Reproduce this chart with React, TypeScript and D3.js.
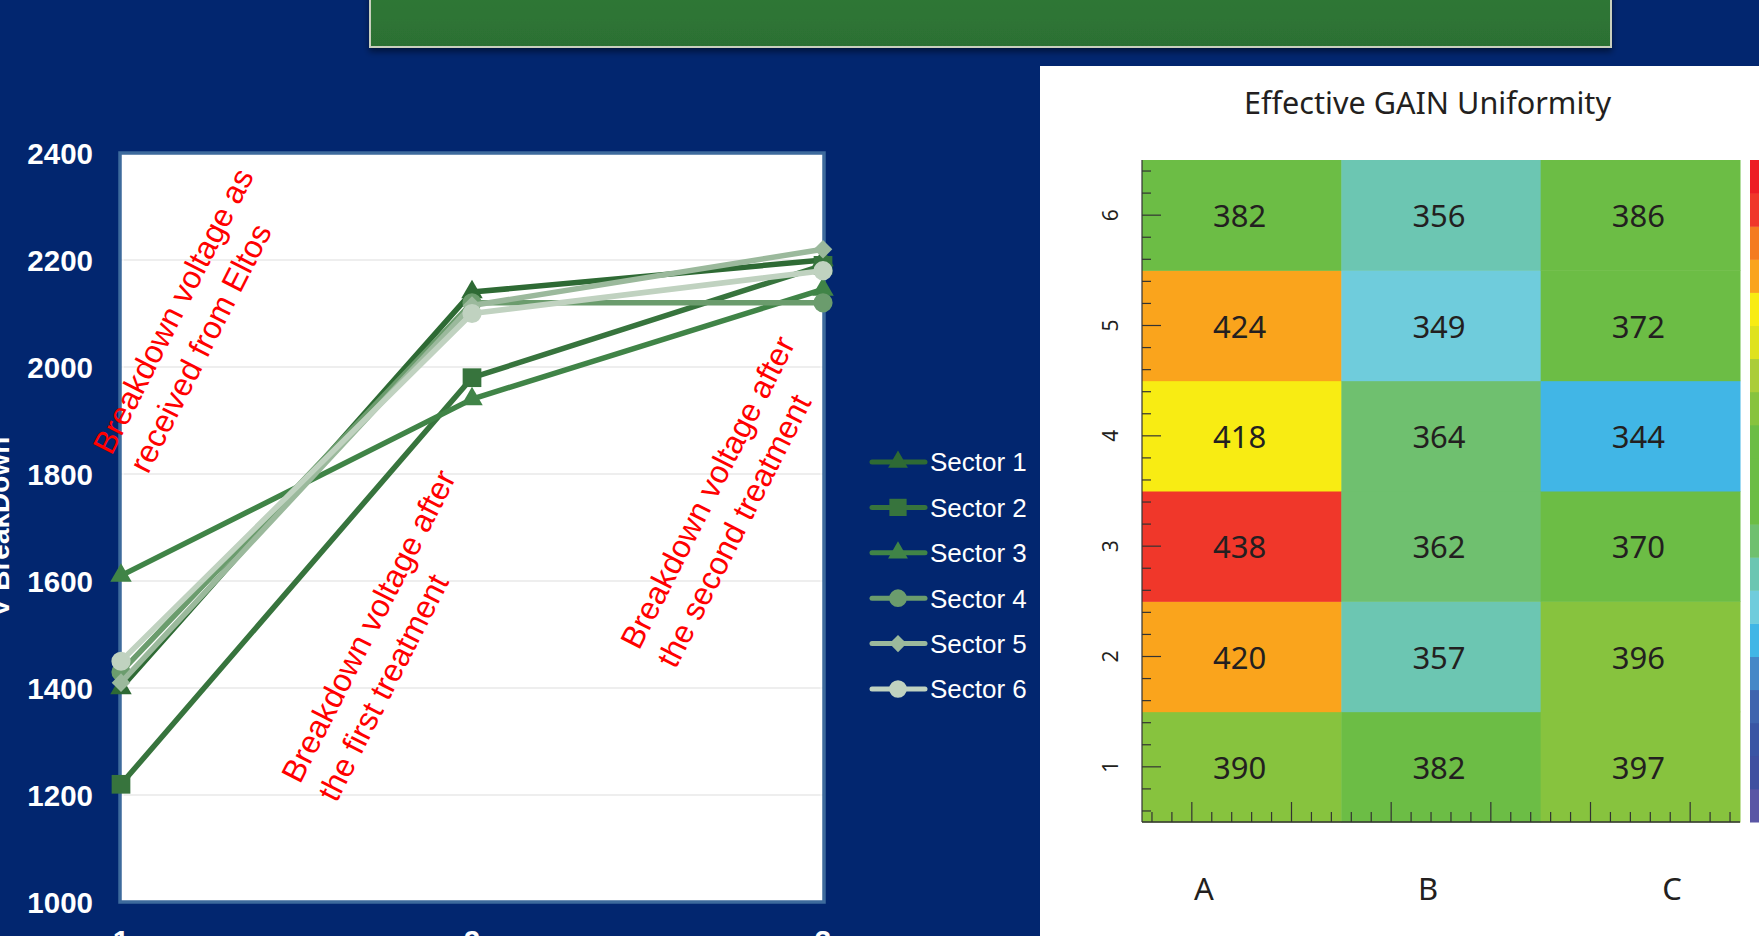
import React from "react";
import * as d3 from "d3";

const W = 1759;
const H = 936;

// ---- Breakdown voltage chart data ----
const stages = [1, 2, 3];
const stageLabels = ["1", "2", "3"];
const voltTicks = [1000, 1200, 1400, 1600, 1800, 2000, 2200, 2400];
const sectorNames = ["Sector 1", "Sector 2", "Sector 3", "Sector 4", "Sector 5", "Sector 6"];
const sector1 = [1400, 2140, 2200];
const sector2 = [1220, 1980, 2190];
const sector3 = [1610, 1940, 2145];
const sector4 = [1430, 2120, 2120];
const sector5 = [1410, 2115, 2220];
const sector6 = [1450, 2100, 2180];
const sectorSeries = [sector1, sector2, sector3, sector4, sector5, sector6];
const sectorColors = ["#2e6a34", "#37743d", "#408447", "#6b9c6d", "#9bb99c", "#c0d2c0"];

// annotation text blocks, anchored (first line start) in data space (stage, volts)
const noteLines = [
  ["Breakdown voltage as", "received from Eltos"],
  ["Breakdown voltage after", "the first treatment"],
  ["Breakdown voltage after", "the second treatment"],
];
const noteStage = [0.973, 1.51, 2.476];
const noteVolt = [1833, 1219, 1469];

// ---- Gain uniformity map data ----
const columns = ["A", "B", "C"];
const rows = [1, 2, 3, 4, 5, 6];
const gainA = [390, 420, 438, 418, 424, 382];
const gainB = [382, 357, 362, 364, 349, 356];
const gainC = [397, 396, 370, 344, 372, 386];
const gainColumns = [gainA, gainB, gainC];
const columnLabelPos = [0.311, 1.435, 2.659];
// colour steps, low to high
const gainPalette = [
  "#5a56a5", "#3f50a0", "#3a55a4", "#3f64ae", "#4688c7",
  "#41b6e6", "#6fccdc", "#6cc6b2", "#6fc06f", "#6cbd45",
  "#6cbd45", "#6cbd45", "#87c33e", "#abcd39", "#dfe21e",
  "#f8ec13", "#faa41c", "#f47b20", "#f0372a", "#ed1c24",
];
const gainDomain = [300, 450];

const symbolDiamondSq = (d3 as any).symbolDiamond2 || d3.symbolDiamond;
const sectorSymbols = [
  d3.symbolTriangle, d3.symbolSquare, d3.symbolTriangle,
  d3.symbolCircle, symbolDiamondSq, d3.symbolCircle,
];
const symbolSizes = [200, 350, 200, 290, 220, 290];

const NAVY = "#02266f";
const SANS = "'Liberation Sans', Arial, sans-serif";
const MAP_FONT = "'Noto Sans', 'Open Sans', sans-serif";

export default function App() {
  // left chart scales
  const x = d3.scaleLinear().domain([1, 3]).range([121, 823]);
  const y = d3.scaleLinear().domain([1000, 2400]).range([902, 153]);
  const line = d3
    .line<number>()
    .x((_, i) => x(stages[i]))
    .y((v) => y(v));

  // heat map scales
  const hx = d3.scaleLinear().domain([0, 3]).range([1142, 1740]);
  const hy = d3.scaleLinear().domain([0.5, 6.5]).range([822, 160]);
  const color = d3.scaleQuantize<string>().domain(gainDomain).range(gainPalette);
  const cb = d3.scaleBand<number>().domain(d3.range(gainPalette.length).reverse()).range([160, 822]);

  const xMinor = d3.range(30).map((k) => k * 0.1 + 0.05);
  const yMinor = rows.flatMap((r) => [-0.4, -0.2, 0, 0.2, 0.4].map((o) => r + o));

  const legendY = d3.scaleLinear().domain([0, 5]).range([462, 689]);

  return (
    <svg
      width={W}
      height={H}
      style={{ position: "fixed", left: 0, top: 0, display: "block" }}
      xmlns="http://www.w3.org/2000/svg"
    >
      <defs>
        <filter id="bannerShadow" x="-5%" y="-50%" width="110%" height="200%">
          <feDropShadow dx="0" dy="4" stdDeviation="3" floodColor="#000" floodOpacity="0.45" />
        </filter>
        <linearGradient id="bannerFill" x1="0" y1="0" x2="0" y2="1">
          <stop offset="0" stopColor="#2f7836" />
          <stop offset="1" stopColor="#2c7033" />
        </linearGradient>
      </defs>
      <rect x={0} y={0} width={W} height={H} fill={NAVY} />

      {/* banner */}
      <rect
        x={370}
        y={-10}
        width={1241}
        height={57}
        fill="url(#bannerFill)"
        stroke="#c9cfbd"
        strokeWidth={2}
        filter="url(#bannerShadow)"
      />

      {/* ---- breakdown voltage chart ---- */}
      <rect x={x(1) - 1} y={y(2400)} width={x(3) - x(1) + 2} height={y(1000) - y(2400)} fill="#ffffff" />
      {voltTicks
        .filter((v) => v > 1000 && v < 2400)
        .map((v) => (
          <line key={v} x1={x(1)} x2={x(3)} y1={y(v)} y2={y(v)} stroke="#eeeeee" strokeWidth={2} />
        ))}
      <rect
        x={x(1) - 1}
        y={y(2400)}
        width={x(3) - x(1) + 2}
        height={y(1000) - y(2400)}
        fill="none"
        stroke="#3d6a9c"
        strokeWidth={3.5}
      />
      <rect
        x={x(1) + 2}
        y={y(2400) + 2.5}
        width={x(3) - x(1) - 4}
        height={y(1000) - y(2400) - 5}
        fill="none"
        stroke="#ffffff"
        strokeWidth={1}
      />

      {voltTicks.map((v) => (
        <text
          key={v}
          x={93}
          y={y(v) + 10.5}
          textAnchor="end"
          fill="#ffffff"
          fontFamily={SANS}
          fontWeight="bold"
          fontSize={29.5}
        >
          {v}
        </text>
      ))}
      {stages.map((s, i) => (
        <text
          key={s}
          x={x(s)}
          y={y(1000) + 49}
          textAnchor="middle"
          fill="#ffffff"
          fontFamily={SANS}
          fontWeight="bold"
          fontSize={29.5}
        >
          {stageLabels[i]}
        </text>
      ))}
      <text
        transform="translate(9,527) rotate(-90)"
        textAnchor="middle"
        fill="#ffffff"
        fontFamily={SANS}
        fontWeight="bold"
        fontSize={28}
      >
        V BreakDown
      </text>

      {/* annotations */}
      {noteLines.map((ls, i) => (
        <text
          key={i}
          transform={`translate(${x(noteStage[i])},${y(noteVolt[i])}) rotate(-63)`}
          textAnchor="start"
          fill="#ff0000"
          fontFamily={SANS}
          fontSize={32}
        >
          <tspan x={0} y={0}>
            {ls[0]}
          </tspan>
          <tspan x={0} y={41}>
            {ls[1]}
          </tspan>
        </text>
      ))}

      {/* series */}
      {sectorSeries.map((vals, si) => (
        <g key={si}>
          <path
            d={line(vals) || ""}
            fill="none"
            stroke={sectorColors[si]}
            strokeWidth={5.5}
            strokeLinejoin="round"
            strokeLinecap="round"
          />
          {vals.map((v, i) => (
            <path
              key={i}
              transform={`translate(${x(stages[i])},${y(v)})`}
              d={d3.symbol().type(sectorSymbols[si]).size(symbolSizes[si])() || ""}
              fill={sectorColors[si]}
            />
          ))}
        </g>
      ))}

      {/* legend */}
      {sectorNames.map((name, i) => (
        <g key={name} transform={`translate(0,${legendY(i)})`}>
          <line x1={872} x2={925} y1={0} y2={0} stroke={sectorColors[i]} strokeWidth={5} strokeLinecap="round" />
          <path
            transform="translate(898,0)"
            d={d3.symbol().type(sectorSymbols[i]).size(symbolSizes[i] * 0.85)() || ""}
            fill={sectorColors[i]}
          />
          <text x={930} y={9.3} fill="#ffffff" fontFamily={SANS} fontSize={26}>
            {name}
          </text>
        </g>
      ))}

      {/* ---- gain uniformity panel ---- */}
      <rect x={1040} y={66} width={W - 1040} height={H - 66} fill="#ffffff" />
      <text
        x={1427.5}
        y={114}
        textAnchor="middle"
        fill="#231f20"
        fontFamily={MAP_FONT}
        fontSize={30}
        textLength={367}
        lengthAdjust="spacingAndGlyphs"
      >
        Effective GAIN Uniformity
      </text>

      {gainColumns.map((col, ci) =>
        col.map((v, ri) => (
          <g key={`${ci}-${ri}`}>
            <rect
              x={hx(ci)}
              y={hy(rows[ri] + 0.5)}
              width={hx(ci + 1) - hx(ci) + 0.5}
              height={hy(rows[ri] - 0.5) - hy(rows[ri] + 0.5) + 0.5}
              fill={color(v)}
            />
            <text
              x={hx(ci + 0.5) - 2}
              y={hy(rows[ri]) + 12}
              textAnchor="middle"
              fill="#231f20"
              fontFamily={MAP_FONT}
              fontSize={31}
            >
              {v}
            </text>
          </g>
        ))
      )}

      {/* colour bar */}
      {gainPalette.map((c, i) => (
        <rect key={i} x={1750} y={cb(i)} width={30} height={cb.bandwidth() + 0.5} fill={c} />
      ))}

      {/* axes */}
      <line x1={hx(0)} x2={hx(3)} y1={hy(0.5)} y2={hy(0.5)} stroke="#333333" strokeWidth={1.5} />
      <line x1={hx(0)} x2={hx(0)} y1={hy(6.5)} y2={hy(0.5)} stroke="#333333" strokeWidth={1.2} />
      {xMinor.map((t, k) => (
        <line
          key={k}
          x1={hx(t)}
          x2={hx(t)}
          y1={hy(0.5)}
          y2={hy(0.5) - ((k - 2) % 5 === 0 ? 20 : 10)}
          stroke="#333333"
          strokeWidth={1.2}
        />
      ))}
      {yMinor.map((t, k) => (
        <line
          key={k}
          x1={hx(0)}
          x2={hx(0) + (Math.abs(t - Math.round(t)) < 0.01 ? 19 : 9)}
          y1={hy(t)}
          y2={hy(t)}
          stroke="#333333"
          strokeWidth={1.2}
        />
      ))}
      {rows.map((r) => (
        <text
          key={r}
          transform={`translate(1118,${hy(r)}) rotate(-90)`}
          textAnchor="middle"
          fill="#231f20"
          fontFamily={MAP_FONT}
          fontSize={21}
        >
          {r}
        </text>
      ))}
      {columns.map((c, i) => (
        <text
          key={c}
          x={hx(columnLabelPos[i])}
          y={900}
          textAnchor="middle"
          fill="#231f20"
          fontFamily={MAP_FONT}
          fontSize={31}
        >
          {c}
        </text>
      ))}
    </svg>
  );
}
